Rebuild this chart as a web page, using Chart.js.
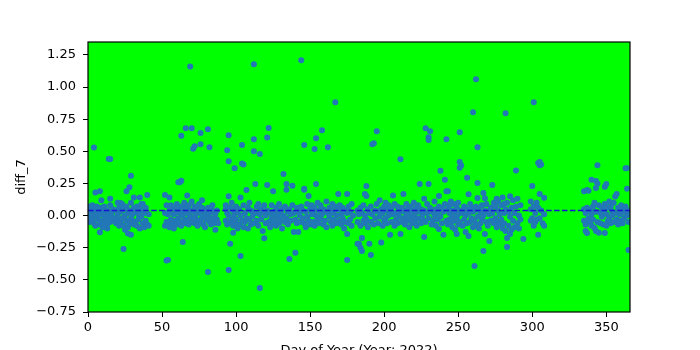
<!DOCTYPE html>
<html>
<head>
<meta charset="utf-8">
<script src="https://cdn.jsdelivr.net/npm/chart.js@4/dist/chart.umd.min.js"></script>
<style>
  html, body { margin: 0; padding: 0; background: #ffffff; overflow: hidden; width: 700px; height: 350px; }
  canvas { display: block; }
</style>
</head>
<body>
<canvas id="chart" width="700" height="360"></canvas>
<script>
// each row: [day of year, diff_7 values observed that day...]
const jan = [
  [0, 0.05, -0.04, 0.02], [1, 0.07, -0.05, 0.01], [2, 0.03, -0.02, 0.06], [3, 0.08, 0.00, -0.03],
  [4, 0.53, 0.06, -0.06, 0.02], [5, 0.18, 0.04, -0.08], [6, 0.07, -0.01, 0.03], [7, -0.03, 0.05],
  [8, 0.19, -0.13, -0.07, 0.02], [9, 0.12, 0.01, -0.05, 0.06], [10, -0.09, 0.03], [11, 0.07, -0.02, -0.06],
  [12, 0.00, -0.04], [13, -0.10, 0.04, -0.07, 0.01], [14, 0.44, -0.03, 0.02], [15, 0.44, 0.13, 0.08, -0.05],
  [16, -0.01, 0.03], [17, 0.05, -0.04], [18, -0.02], [19, 0.04, -0.06], [20, 0.10, 0.01, -0.03],
  [21, -0.08, 0.06], [22, 0.097, 0.03, -0.05], [23, -0.02, 0.09], [24, -0.26, 0.05, -0.08],
  [25, 0.00, -0.11], [26, 0.19, 0.07, -0.04], [27, -0.14, 0.02, -0.09], [28, 0.22, -0.06, 0.04],
  [29, 0.31, -0.15, 0.10, -0.02], [30, -0.04, 0.01], [31, 0.14, 0.06, -0.07]
];
const feb = [
  [32, 0.03, -0.05], [33, -0.08, 0.07], [34, 0.01, -0.03], [35, 0.14, 0.05, -0.10], [36, -0.01, 0.09],
  [37, 0.04, -0.06, 0.09], [38, -0.09, 0.02], [39, 0.06, -0.04], [40, -0.07, 0.16], [41, 0.01, -0.08],
  [52, 0.16, -0.08, 0.02], [53, 0.08, -0.35, -0.05], [54, -0.07, -0.345, 0.01], [55, 0.14, -0.09, 0.04],
  [56, 0.08, -0.03], [57, -0.06, 0.06], [58, 0.01, -0.10], [59, 0.05, -0.04]
];
const mar = [
  [60, 0.03, -0.07, 0.09], [61, 0.26, -0.02, 0.05], [62, 0.26, -0.05, 0.02], [63, 0.27, 0.62, 0.07, -0.08],
  [64, -0.205, 0.00, 0.04], [65, 0.10, -0.04], [66, 0.68, 0.06, -0.06], [67, 0.157, 0.02, -0.03],
  [68, 0.08, -0.07], [69, 1.16, 0.04, -0.01], [70, 0.68, 0.11, -0.05], [71, 0.52, 0.03, -0.02],
  [72, 0.54, 0.07, -0.06], [73, -0.03, 0.01], [74, 0.05, -0.08], [75, 0.09, -0.04],
  [76, 0.643, 0.555, 0.02, -0.05], [77, 0.12, -0.02, 0.06], [78, -0.07, 0.03], [79, 0.01, -0.09],
  [80, 0.04, -0.03], [81, 0.672, -0.438, 0.00, 0.06], [82, 0.532, -0.05, 0.02], [83, 0.05, -0.07],
  [84, -0.02, 0.08], [85, 0.03, -0.06], [86, -0.11, 0.01], [87, 0.04, -0.03], [88, -0.06]
];
const apr = [
  [93, 0.05, -0.04, 0.08], [94, 0.509, -0.07, 0.02], [95, 0.625, 0.423, -0.423, 0.15, 0.00],
  [96, -0.22, 0.06, -0.05], [97, 0.10, -0.02], [98, -0.133, 0.04, -0.08], [99, 0.369, 0.01, -0.06],
  [100, 0.07, -0.03], [101, -0.10, 0.03], [102, 0.05, -0.07], [103, -0.314, 0.14, 0.00],
  [104, 0.548, 0.405, -0.04], [105, 0.398, 0.08, -0.09], [106, 0.02, -0.05], [107, 0.198, -0.02],
  [108, 0.06, -0.10], [109, 0.10, -0.03], [110, -0.07, 0.04], [111, 0.03, -0.01],
  [112, 1.177, 0.594, 0.501, -0.06], [113, 0.245, 0.02], [114, -0.04, 0.07], [115, 0.09, -0.08],
  [116, 0.478, -0.563, 0.01], [117, -0.03, 0.05], [118, -0.12, 0.03], [119, -0.177, 0.08], [120, 0.00, -0.06]
];
const may = [
  [121, 0.607, 0.237, 0.04], [122, 0.682, -0.05], [123, 0.02, -0.09], [124, 0.08, -0.02],
  [125, 0.19, -0.06, 0.03], [126, 0.01, -0.04], [127, 0.06, -0.08], [128, -0.01, 0.04],
  [129, 0.09, -0.06], [130, -0.03, 0.02], [131, 0.05, -0.10], [132, 0.323, 0.00], [133, -0.05, 0.07],
  [134, 0.245, 0.201, -0.02], [135, 0.03, -0.07], [136, -0.337, 0.05], [137, 0.01, -0.04],
  [138, 0.232, 0.08], [139, -0.128, 0.02], [140, -0.29, -0.03], [141, 0.06, -0.06], [142, -0.128, 0.03],
  [143, 0.00, -0.05], [144, 1.208, 0.07], [145, -0.02, 0.04], [146, 0.548, 0.209, 0.20, -0.06],
  [147, 0.03, -0.09], [148, 0.09, -0.01], [149, 0.152, -0.04], [150, 0.05, -0.07], [151, 0.01, 0.08]
];
const jun = [
  [152, -0.05, 0.03], [153, 0.517, 0.06, -0.08], [154, 0.602, 0.245, 0.00], [155, -0.03, 0.10],
  [156, 0.04, -0.06], [157, 0.08, -0.02], [158, 0.664, 0.01], [159, -0.07, 0.05], [160, 0.03, -0.04],
  [161, 0.11, -0.09], [162, 0.532, 0.02], [163, -0.01, 0.06], [164, 0.04, -0.05], [165, -0.08, 0.09],
  [166, 0.02, -0.03], [167, 0.882, 0.07], [168, -0.06, 0.00], [169, 0.167, 0.05], [170, -0.04, 0.08],
  [171, 0.01, -0.07], [172, 0.06, -0.02], [173, -0.10, 0.03], [174, 0.04, -0.05],
  [175, 0.167, -0.143, -0.345, 0.02], [176, -0.06, 0.07], [177, 0.03, -0.03], [178, 0.09, -0.08], [179, 0.00]
];
const jul = [
  [182, -0.22, 0.04, -0.05], [183, -0.22, 0.01], [184, -0.25, 0.06, -0.08], [185, -0.275, -0.174, 0.02],
  [186, -0.04, 0.08], [187, 0.167, -0.06, 0.00], [188, 0.23, 0.152, -0.03], [189, 0.05, -0.09],
  [190, -0.22, 0.02], [191, -0.306, 0.07, -0.05], [192, 0.555, 0.01], [193, 0.563, -0.07],
  [194, 0.04, -0.02], [195, 0.656, 0.09], [196, -0.06, 0.03], [197, 0.12, -0.01], [198, -0.21, 0.05],
  [199, 0.02, -0.08], [200, 0.07, -0.04], [201, -0.02, 0.10], [202, 0.04, -0.06], [203, 0.08, 0.00],
  [204, -0.15, 0.03], [205, -0.05, 0.06], [206, 0.157, 0.01], [207, -0.08, 0.09], [208, 0.02, -0.03],
  [209, 0.07, -0.06], [210, 0.04, -0.01], [211, 0.439, -0.143, 0.03], [212, 0.06, -0.05]
];
const aug = [
  [213, 0.167, -0.02], [214, 0.03, -0.07], [215, 0.09, 0.00], [216, -0.04, 0.05], [217, 0.01, -0.09],
  [218, 0.07, -0.03], [219, -0.06, 0.04], [220, 0.10, -0.01], [221, 0.02, -0.05], [222, 0.06, -0.08],
  [223, -0.02, 0.08], [224, 0.245, 0.03], [225, -0.06, 0.05], [226, 0.01, -0.03],
  [227, 0.13, -0.167, 0.04], [228, 0.68, -0.05], [229, 0.09, 0.02], [230, 0.61, 0.587, 0.245, -0.02],
  [231, 0.656, 0.06], [232, -0.07, 0.03], [233, 0.04, -0.04], [234, 0.11, 0.00], [235, -0.08, 0.05],
  [236, 0.02, -0.03], [237, 0.152, -0.105, 0.07], [238, 0.348, -0.01], [239, 0.06, -0.06],
  [240, -0.15, 0.03], [241, 0.279, 0.09], [242, 0.594, 0.19, -0.04], [243, 0.19, 0.05, -0.07]
];
const sep = [
  [244, 0.08, -0.03, 0.02], [245, -0.06, 0.11], [246, 0.04, -0.09, 0.00], [247, 0.09, -0.04],
  [248, -0.11, 0.03], [249, -0.143, 0.06, -0.02], [250, 0.01, -0.07, 0.10],
  [251, 0.649, 0.416, 0.372, -0.05], [252, 0.39, 0.04], [253, -0.08, 0.02], [254, 0.07, -0.03],
  [255, -0.128, 0.00], [256, 0.294, 0.05, -0.06], [257, 0.165, -0.159, 0.02], [258, 0.09, -0.05],
  [259, -0.02, 0.06], [260, 0.804, -0.09, 0.03], [261, -0.392, 0.04, -0.04], [262, 1.06, 0.07, -0.07],
  [263, 0.532, 0.253, 0.136, -0.01], [264, -0.10, 0.05], [265, 0.02, -0.06], [266, 0.08, -0.03],
  [267, -0.275, 0.175, 0.00], [268, 0.134, -0.143, 0.04], [269, -0.05, 0.09], [270, 0.03, -0.08],
  [271, -0.198, 0.01], [272, 0.06, -0.04], [273, 0.237, 0.02]
];
const oct = [
  [274, 0.10, -0.06], [275, -0.02, 0.07], [276, 0.13, -0.09], [277, 0.04, -0.05, 0.11], [278, -0.07, 0.01],
  [279, 0.08, -0.03], [280, 0.14, -0.10], [281, 0.02, -0.06, 0.09], [282, 0.796, 0.05, -0.12],
  [283, -0.244, -0.174, 0.10], [284, -0.08, 0.03], [285, -0.143, 0.15, -0.01], [286, 0.06, -0.11],
  [287, 0.12, -0.04], [288, -0.09, 0.02], [289, 0.35, 0.07], [290, -0.06, 0.13], [291, 0.00, -0.10],
  [292, 0.08, -0.03], [294, -0.182], [299, 0.05, -0.04, 0.11], [300, 0.23, -0.02],
  [301, 0.882, 0.07, -0.08], [302, 0.02, -0.05], [303, 0.10, -0.03], [304, -0.15, 0.408, 0.06]
];
const nov = [
  [305, 0.392, 0.416, 0.167, -0.02], [306, 0.398, 0.04], [307, -0.06], [308, 0.139, -0.08, 0.01]
];
const dec = [
  [335, 0.19, 0.05, -0.04], [336, -0.12, 0.02, -0.07], [337, 0.198, -0.136, 0.06], [338, 0.193, -0.02],
  [339, 0.04, -0.05], [340, 0.279, 0.01, -0.08], [341, 0.07, -0.03], [342, -0.097, 0.10],
  [343, 0.268, 0.214, -0.12, 0.03], [344, 0.392, 0.25, -0.05], [345, -0.133, 0.08], [346, 0.02, -0.06],
  [347, 0.06, -0.01], [348, -0.07, 0.04], [349, 0.224, -0.136, 0.09], [350, 0.245, -0.08, 0.01],
  [351, 0.06, -0.04], [352, -0.02, 0.11], [353, 0.07, -0.06], [354, 0.03, 0.00], [355, -0.05, 0.10],
  [356, 0.149, 0.02], [357, 0.167, -0.03], [358, -0.07, 0.06], [359, 0.01, -0.04], [360, 0.08, 0.02],
  [361, -0.06, 0.05], [362, 0.03, -0.02], [363, 0.369, 0.07], [364, 0.369, 0.209, 0.00], [365, -0.267, 0.04, -0.05]
];
const months = [jan, feb, mar, apr, may, jun, jul, aug, sep, oct, nov, dec];

const meanDiff = 0.04;          // dashed reference line
const xTicks = [0, 50, 100, 150, 200, 250, 300, 350];
const yTicks = [-0.75, -0.5, -0.25, 0, 0.25, 0.5, 0.75, 1.0, 1.25];
const xLimits = [0, 366];
const yLimits = [-0.75, 1.35];
const xLabel = 'Day of Year (Year: 2022)';
const yLabel = 'diff_7';

// flatten rows into scatter points
var points = [];
months.forEach(m => {
  m.forEach(row => {
    for (let i = 1; i < row.length; i++) {
      points.push({x: row[0], y: row[i]});
    }
  });
});

const font = {family: 'DejaVu Sans', size: 13};

// green plot face + black frame, like the matplotlib axes
const axesBox = {
  id: 'axesBox',
  beforeDatasetsDraw(chart) {
    const a = chart.chartArea;
    const c = chart.ctx;
    c.save();
    c.fillStyle = '#00ff00';
    c.fillRect(a.left, a.top, a.right - a.left, a.bottom - a.top);
    c.restore();
  },
  afterDraw(chart) {
    const a = chart.chartArea;
    const c = chart.ctx;
    c.save();
    c.strokeStyle = '#000000';
    c.lineWidth = 1.2;
    c.strokeRect(a.left, a.top, a.right - a.left, a.bottom - a.top);
    c.restore();
  }
};

new Chart(document.getElementById('chart'), {
  type: 'scatter',
  data: {
    datasets: [
      {
        data: [{x: xLimits[0], y: meanDiff}, {x: xLimits[1], y: meanDiff}],
        showLine: true,
        borderColor: '#1414d2',
        borderWidth: 1.5,
        borderDash: [5.5, 2.4],
        pointRadius: 0,
        order: 0
      },
      {
        data: points,
        backgroundColor: '#2277b6',
        borderWidth: 0,
        pointRadius: 3,
        order: 1
      }
    ]
  },
  options: {
    responsive: false,
    animation: false,
    layout: {padding: {left: 0, right: 70, top: 42, bottom: 0}},
    plugins: {legend: {display: false}, tooltip: {enabled: false}},
    scales: {
      x: {
        type: 'linear',
        min: xLimits[0],
        max: xLimits[1],
        afterBuildTicks: s => { s.ticks = xTicks.map(v => ({value: v})); },
        afterFit: s => { s.height = 48; },
        ticks: {color: '#000000', font: font, padding: 3, maxRotation: 0,
                callback: v => String(v)},
        grid: {drawOnChartArea: false, drawTicks: true, tickLength: 5, color: '#000000'},
        border: {display: false},
        title: {display: true, text: xLabel, color: '#000000', font: font, padding: {top: 0, bottom: 2}}
      },
      y: {
        type: 'linear',
        min: yLimits[0],
        max: yLimits[1],
        afterBuildTicks: s => { s.ticks = yTicks.map(v => ({value: v})); },
        afterFit: s => { s.width = 88; },
        ticks: {color: '#000000', font: font, padding: 7,
                callback: v => v.toFixed(2).replace('-', '\u2212')},
        grid: {drawOnChartArea: false, drawTicks: true, tickLength: 5, color: '#000000'},
        border: {display: false},
        title: {display: true, text: yLabel, color: '#000000', font: font, padding: {top: 14, bottom: 0}}
      }
    }
  },
  plugins: [axesBox]
});
</script>
</body>
</html>
